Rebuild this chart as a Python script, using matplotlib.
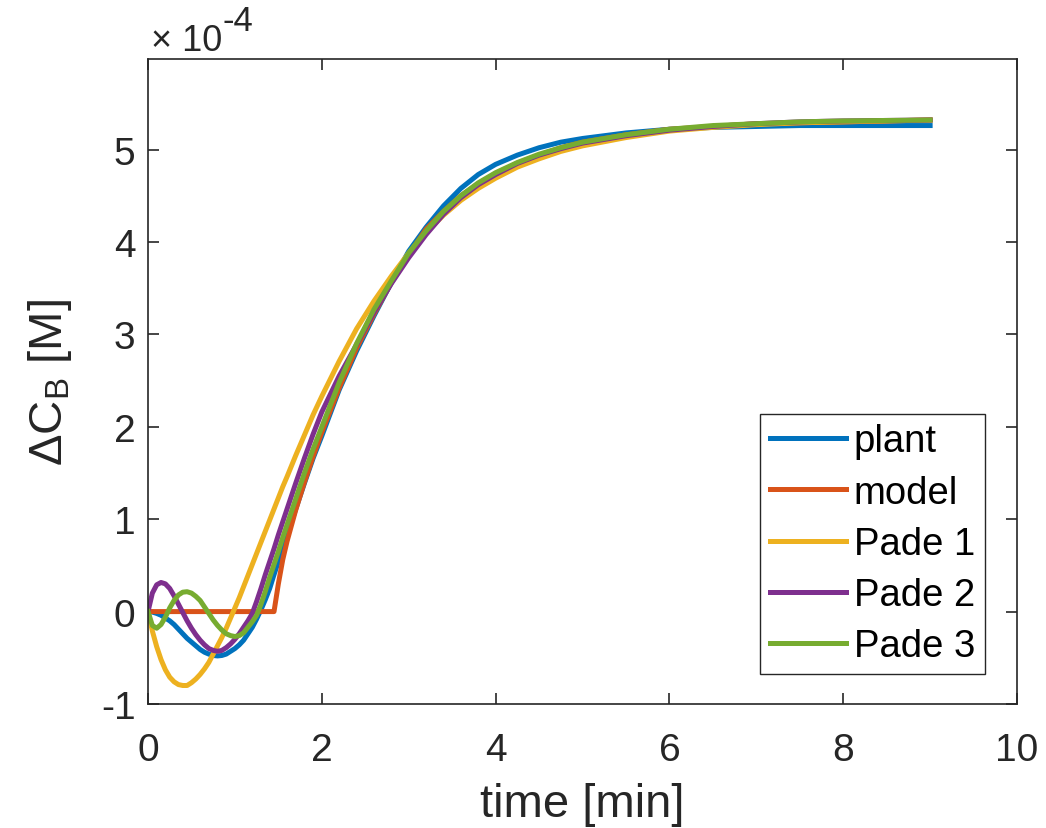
import numpy as np
import matplotlib
matplotlib.use('Agg')
import matplotlib.pyplot as plt

plt.rcParams['font.family'] = ['Liberation Sans', 'DejaVu Sans']
plt.rcParams['mathtext.fontset'] = 'custom'
plt.rcParams['mathtext.rm'] = 'Liberation Sans'
plt.rcParams['mathtext.it'] = 'Liberation Sans:italic'
plt.rcParams['mathtext.bf'] = 'Liberation Sans:bold'
plt.rcParams['axes.unicode_minus'] = False

# step responses, concentration change in units of 1e-4 M
time_min = [0.00, 0.05, 0.10, 0.15, 0.20, 0.25, 0.30, 0.35, 0.40, 0.45,
            0.50, 0.55, 0.60, 0.65, 0.70, 0.75, 0.80, 0.85, 0.90, 0.95,
            1.00, 1.05, 1.10, 1.15, 1.20, 1.25, 1.30, 1.35, 1.40, 1.45,
            1.50, 1.55, 1.60, 1.70, 1.80, 1.90, 2.00, 2.20, 2.40, 2.60,
            2.80, 3.00, 3.20, 3.40, 3.60, 3.80, 4.00, 4.25, 4.50, 4.75,
            5.00, 5.50, 6.00, 6.50, 7.00, 7.50, 8.00, 8.50, 9.00]

plant = [0.00, -0.005, -0.02, -0.04, -0.07, -0.10, -0.14, -0.19, -0.24, -0.29,
         -0.33, -0.37, -0.41, -0.44, -0.46, -0.475, -0.48, -0.475, -0.46, -0.43,
         -0.40, -0.36, -0.31, -0.24, -0.17, -0.08, 0.02, 0.13, 0.25, 0.40,
         0.54, 0.69, 0.83, 1.11, 1.39, 1.66, 1.90, 2.40, 2.82, 3.20,
         3.56, 3.90, 4.16, 4.39, 4.58, 4.73, 4.84, 4.94, 5.02, 5.08,
         5.12, 5.18, 5.22, 5.24, 5.25, 5.26, 5.26, 5.26, 5.26]

model = [0.00, 0.00, 0.00, 0.00, 0.00, 0.00, 0.00, 0.00, 0.00, 0.00,
         0.00, 0.00, 0.00, 0.00, 0.00, 0.00, 0.00, 0.00, 0.00, 0.00,
         0.00, 0.00, 0.00, 0.00, 0.00, 0.00, 0.00, 0.00, 0.00, 0.00,
         0.30, 0.56, 0.76, 1.10, 1.40, 1.68, 1.94, 2.42, 2.85, 3.22,
         3.56, 3.86, 4.14, 4.33, 4.50, 4.63, 4.74, 4.85, 4.94, 5.02,
         5.08, 5.16, 5.22, 5.25, 5.28, 5.29, 5.30, 5.31, 5.32]

pade1 = [0.00, -0.21, -0.38, -0.52, -0.63, -0.71, -0.76, -0.79, -0.80, -0.80,
         -0.77, -0.73, -0.68, -0.62, -0.55, -0.46, -0.37, -0.28, -0.18, -0.07,
         0.04, 0.15, 0.27, 0.39, 0.51, 0.63, 0.75, 0.87, 0.99, 1.11,
         1.23, 1.35, 1.46, 1.69, 1.91, 2.13, 2.33, 2.71, 3.06, 3.36,
         3.63, 3.88, 4.10, 4.29, 4.45, 4.58, 4.69, 4.81, 4.90, 4.98,
         5.04, 5.13, 5.20, 5.24, 5.27, 5.29, 5.30, 5.31, 5.32]

pade2 = [0.00, 0.20, 0.29, 0.315, 0.30, 0.25, 0.17, 0.08, -0.01, -0.10,
         -0.18, -0.25, -0.31, -0.36, -0.40, -0.42, -0.43, -0.42, -0.39, -0.35,
         -0.30, -0.24, -0.17, -0.10, -0.02, 0.11, 0.25, 0.40, 0.54, 0.68,
         0.83, 0.97, 1.11, 1.39, 1.66, 1.92, 2.16, 2.55, 2.89, 3.24,
         3.55, 3.83, 4.08, 4.30, 4.48, 4.62, 4.73, 4.85, 4.94, 5.01,
         5.07, 5.15, 5.21, 5.25, 5.28, 5.30, 5.31, 5.315, 5.32]

pade3 = [0.00, -0.15, -0.18, -0.14, -0.06, 0.04, 0.12, 0.18, 0.21, 0.215,
         0.20, 0.165, 0.12, 0.05, -0.02, -0.09, -0.15, -0.20, -0.24, -0.26,
         -0.27, -0.26, -0.23, -0.17, -0.11, -0.04, 0.08, 0.22, 0.37, 0.51,
         0.65, 0.80, 0.94, 1.22, 1.50, 1.76, 2.00, 2.48, 2.90, 3.27,
         3.58, 3.88, 4.12, 4.33, 4.50, 4.64, 4.75, 4.86, 4.95, 5.02,
         5.08, 5.16, 5.22, 5.26, 5.28, 5.30, 5.31, 5.315, 5.32]

series = [('plant', plant, '#0072BD'),
          ('model', model, '#D95319'),
          ('Pade 1', pade1, '#EDB120'),
          ('Pade 2', pade2, '#7E2F8E'),
          ('Pade 3', pade3, '#77AC30')]

axis_gray = '#262626'

fig = plt.figure(figsize=(10.46, 8.29), dpi=100)
ax = fig.add_axes([0.1415, 0.1496, 0.8308, 0.778])

for name, vals, col in series:
    ax.plot(time_min, vals, color=col, lw=3.6, label=name)

ax.set_xlim(0, 10)
ax.set_ylim(-1, 5.98)
ax.set_xticks([0, 2, 4, 6, 8, 10])
ax.set_yticks(range(-1, 6))

ax.tick_params(direction='in', top=True, right=True, length=8, width=1.2,
               labelsize=28, colors=axis_gray)
ax.tick_params(axis='x', pad=20)
ax.tick_params(axis='y', pad=9)
for sp in ax.spines.values():
    sp.set_color(axis_gray)
    sp.set_linewidth(1.2)

# axis multiplier above the y axis
mult = ax.text(0.004, 1.014, '× 10', transform=ax.transAxes, fontsize=26,
               color=axis_gray, ha='left', va='baseline')
ax.annotate('-4', xy=(1.0, 0.6), xycoords=mult, fontsize=25,
            color=axis_gray, ha='left', va='bottom')

ax.set_xlabel('time [min]', fontsize=34, color=axis_gray, labelpad=10)
ax.set_ylabel('ΔC$_\\mathrm{B}$ [M]', fontsize=34, color=axis_gray, labelpad=19)

leg = ax.legend(loc='lower right', bbox_to_anchor=(0.963, 0.0465), fontsize=27.5,
                frameon=True, fancybox=False, edgecolor=axis_gray, framealpha=1,
                borderpad=0.25, labelspacing=0.4, handlelength=2.0,
                handletextpad=0.2, borderaxespad=0)
leg.get_frame().set_linewidth(1.0)

fig.savefig('out.png', dpi=100)
